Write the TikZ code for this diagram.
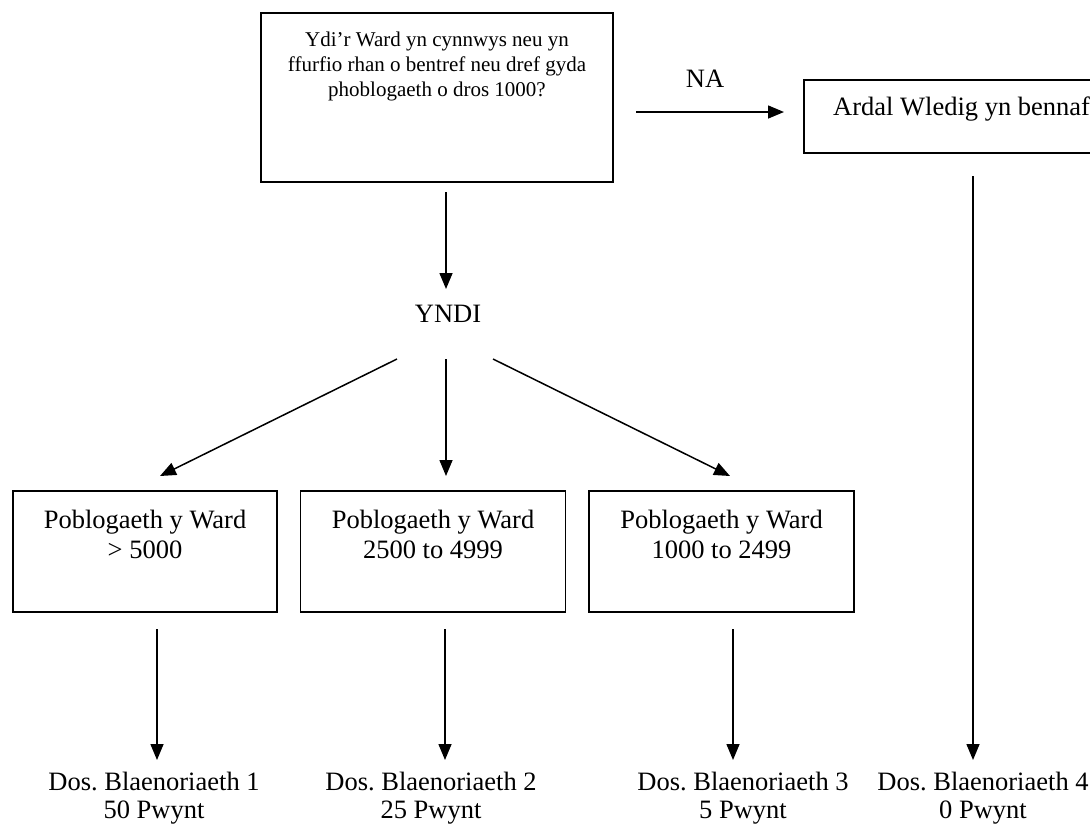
\documentclass[tikz,border=0pt]{standalone}
\usepackage{fontspec}
\setmainfont{Liberation Serif}
\usetikzlibrary{arrows.meta}
\frenchspacing
\begin{document}
\begin{tikzpicture}[x=1pt,y=-1pt,
  boxshape/.style={draw, line width=1.5pt, inner sep=0pt, minimum width=#1},
  big/.style={font=\fontsize{26.5}{30}\selectfont, inner sep=0pt, anchor=base},
  small/.style={font=\fontsize{21}{24}\selectfont, inner sep=0pt, anchor=base},
  arr/.style={line width=1.5pt, -{Triangle[length=16pt,width=13pt]}}]
\useasboundingbox (0,0) rectangle (1090,823);
\clip (0,0) rectangle (1090,823);
% boxes
\node[boxshape=352, minimum height=169] (q) at (437,97.5) {};
\node[boxshape=316, minimum height=73] (r) at (962,116.5) {};
\node[boxshape=264, minimum height=121] (b1) at (145,551.5) {};
\node[boxshape=265, minimum height=121] (b2) at (433,551.5) {};
\node[boxshape=265, minimum height=121] (b3) at (721.5,551.5) {};
% texts
\node[small] (q1) at (437,46) {Ydi’r Ward yn cynnwys neu yn};
\node[small] (q2) at (437,71) {ffurfio rhan o bentref neu dref gyda};
\node[small] (q3) at (437,96) {phoblogaeth o dros 1000?};
\node[big, anchor=base west] (rt) at (833,115) {Ardal Wledig yn bennaf};
\node[big] (na) at (705,87) {NA};
\node[big] (yndi) at (448,322) {YNDI};
\node[big] (b1a) at (145,528) {Poblogaeth y Ward};
\node[big] (b1b) at (145,558) {> 5000};
\node[big] (b2a) at (433,528) {Poblogaeth y Ward};
\node[big] (b2b) at (433,558) {2500 to 4999};
\node[big] (b3a) at (721.5,528) {Poblogaeth y Ward};
\node[big] (b3b) at (721.5,558) {1000 to 2499};
\node[big] (d1a) at (154,790) {Dos. Blaenoriaeth 1};
\node[big] (d1b) at (154,818) {50 Pwynt};
\node[big] (d2a) at (431,790) {Dos. Blaenoriaeth 2};
\node[big] (d2b) at (431,818) {25 Pwynt};
\node[big] (d3a) at (743,790) {Dos. Blaenoriaeth 3};
\node[big] (d3b) at (743,818) {5 Pwynt};
\node[big] (d4a) at (983,790) {Dos. Blaenoriaeth 4};
\node[big] (d4b) at (983,818) {0 Pwynt};
% connector ends
\coordinate (naS) at (636,112);
\coordinate (naE) at (784,112);
\coordinate (qS) at (446,192);
\coordinate (qE) at (446,289);
\coordinate (f1S) at (397,359);
\coordinate (f1E) at (160,476);
\coordinate (f2S) at (446,359);
\coordinate (f2E) at (446,476);
\coordinate (f3S) at (493,359);
\coordinate (f3E) at (730,476);
\coordinate (v1S) at (157,629);
\coordinate (v1E) at (157,760);
\coordinate (v2S) at (445,629);
\coordinate (v2E) at (445,760);
\coordinate (v3S) at (733,629);
\coordinate (v3E) at (733,760);
\coordinate (v4S) at (973,176);
\coordinate (v4E) at (973,760);
% connectors
\draw[arr] (naS) -- (naE);
\draw[arr] (qS) -- (qE);
\draw[arr] (f1S) -- (f1E);
\draw[arr] (f2S) -- (f2E);
\draw[arr] (f3S) -- (f3E);
\draw[arr] (v1S) -- (v1E);
\draw[arr] (v2S) -- (v2E);
\draw[arr] (v3S) -- (v3E);
\draw[arr] (v4S) -- (v4E);
\end{tikzpicture}
\end{document}
